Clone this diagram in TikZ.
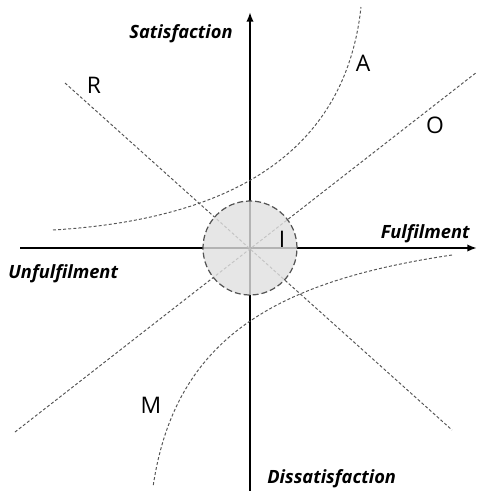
\documentclass[tikz,border=0pt]{standalone}
\usepackage{fontspec}
\setmainfont{Open Sans}
\usetikzlibrary{arrows.meta}
\definecolor{dashgray}{HTML}{555555}
\definecolor{discgray}{HTML}{E0E0E0}
\tikzset{
  axis/.style={line width=1.7pt,-{Latex[length=5.5pt,width=4.2pt]}},
  guide/.style={dashgray,line width=0.55pt,dash pattern=on 1.7pt off 1.2pt},
  axislabel/.style={font=\fontsize{10.4}{12}\selectfont\bfseries\itshape,inner sep=0pt},
  zonelabel/.style={font=\fontsize{13}{15}\selectfont,inner sep=0pt,anchor=base}
}
\begin{document}
\begin{tikzpicture}[x=0.02cm,y=-0.02cm]
  \useasboundingbox (0,0) rectangle (478,491);
  \coordinate (o) at (250,248);
  % axes
  \coordinate (xl) at (20,248);
  \coordinate (xr) at (477,248);
  \coordinate (yb) at (250,491);
  \coordinate (yt) at (250,12);
  \draw[axis] (xl) -- (xr);
  \draw[axis] (yb) -- (yt);
  % straight guide lines
  \coordinate (r1) at (65,83);
  \coordinate (r2) at (452,430);
  \coordinate (o1) at (15,432);
  \coordinate (o2) at (477,72);
  \draw[guide] (r1) -- (r2);
  \draw[guide] (o1) -- (o2);
  % curved guide lines
  \coordinate (a1) at (53,230);
  \coordinate (a2) at (361,7);
  \coordinate (m1) at (452,255);
  \coordinate (m2) at (153,487);
  \draw[guide] (a1) .. controls (253,218) and (347,137) .. (a2);
  \draw[guide] (m1) .. controls (277,281) and (175,337) .. (m2);
  % indifference zone
  \node[circle,minimum size=94*0.02cm,inner sep=0pt,fill=discgray,fill opacity=0.8,
        draw=dashgray,line width=0.7pt,dash pattern=on 3.4pt off 1.7pt] (zone) at (o) {};
  % labels
  \node[axislabel,anchor=base east] (sat) at (233,38) {Satisfaction};
  \node[axislabel,anchor=base east] (ful) at (470,238) {Fulfilment};
  \node[axislabel,anchor=base west] (unf) at (8,278) {Unfulfilment};
  \node[axislabel,anchor=base west] (dis) at (267,483) {Dissatisfaction};
  \node[zonelabel] (lr) at (94,93) {R};
  \node[zonelabel] (la) at (363,71) {A};
  \node[zonelabel] (lo) at (435,133) {O};
  \node[zonelabel] (li) at (282,247) {I};
  \node[zonelabel] (lm) at (151,413) {M};
\end{tikzpicture}
\end{document}
